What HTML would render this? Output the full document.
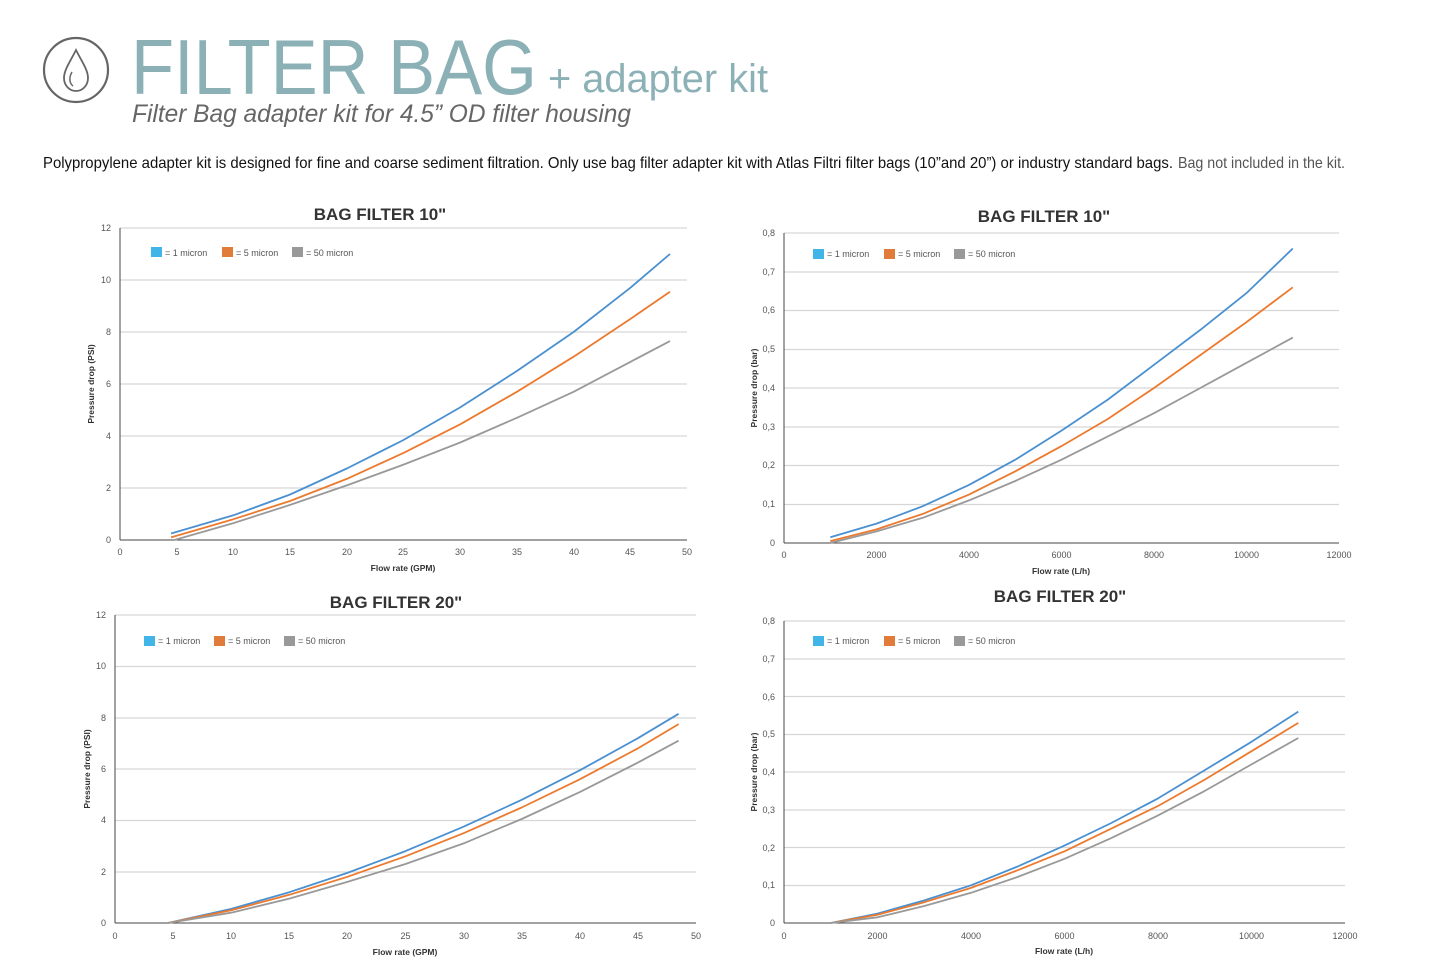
<!DOCTYPE html>
<html><head><meta charset="utf-8"><style>html,body{margin:0;padding:0;background:#fff}svg{display:block}</style></head><body>
<svg width="1445" height="973" viewBox="0 0 1445 973" xmlns="http://www.w3.org/2000/svg" font-family="Liberation Sans, sans-serif">
<!-- header -->
<circle cx="76" cy="70" r="32" fill="none" stroke="#666" stroke-width="2.2"/>
<path d="M76 50 C70 62 64 70 64 78 C64 86 70 91 76 91 C82 91 88 86 88 78 C88 70 82 62 76 50 Z" fill="none" stroke="#666" stroke-width="1.8"/>
<path d="M72 72 C69 77 69 83 73 86" fill="none" stroke="#666" stroke-width="1.5"/>
<text x="131" y="94" font-size="78" fill="#8bb0b6" textLength="406" lengthAdjust="spacingAndGlyphs">FILTER BAG</text>
<text x="548" y="92" font-size="40" fill="#8bb0b6" textLength="220" lengthAdjust="spacingAndGlyphs">+ adapter kit</text>
<text x="132" y="122" font-size="25" font-style="italic" fill="#666" textLength="499" lengthAdjust="spacingAndGlyphs">Filter Bag adapter kit for 4.5” OD filter housing</text>
<text x="43" y="168" font-size="16" fill="#111" textLength="1130" lengthAdjust="spacingAndGlyphs">Polypropylene adapter kit is designed for fine and coarse sediment filtration. Only use bag filter adapter kit with Atlas Filtri filter bags (10”and 20”) or industry standard bags.</text>
<text x="1178" y="168" font-size="16" fill="#555" textLength="167" lengthAdjust="spacingAndGlyphs">Bag not included in the kit.</text>

<g font-size="9" fill="#555">
<!-- Chart 1 -->
<text x="380" y="220" font-size="17" font-weight="bold" fill="#333" text-anchor="middle">BAG FILTER 10"</text>
<g stroke="#d6d6d6" stroke-width="1.2"><line x1="120" x2="687" y1="228" y2="228"/><line x1="120" x2="687" y1="280" y2="280"/><line x1="120" x2="687" y1="332" y2="332"/><line x1="120" x2="687" y1="384" y2="384"/><line x1="120" x2="687" y1="436" y2="436"/><line x1="120" x2="687" y1="488" y2="488"/></g>
<g stroke="#444" stroke-width="1"><line x1="120" y1="228" x2="120" y2="540"/><line x1="120" y1="540" x2="687" y2="540"/></g>
<g text-anchor="end"><text x="111" y="231">12</text><text x="111" y="283">10</text><text x="111" y="335">8</text><text x="111" y="387">6</text><text x="111" y="439">4</text><text x="111" y="491">2</text><text x="111" y="543">0</text></g>
<g text-anchor="middle"><text x="120" y="555">0</text><text x="177" y="555">5</text><text x="233" y="555">10</text><text x="290" y="555">15</text><text x="347" y="555">20</text><text x="403" y="555">25</text><text x="460" y="555">30</text><text x="517" y="555">35</text><text x="574" y="555">40</text><text x="630" y="555">45</text><text x="687" y="555">50</text>
<text x="403" y="571" font-weight="bold" font-size="8.5" fill="#333">Flow rate (GPM)</text></g>
<text transform="translate(94 384) rotate(-90)" text-anchor="middle" font-weight="bold" font-size="8.5" fill="#333">Pressure drop (PSI)</text>
<rect x="151" y="247" width="11" height="10" fill="#41b4e8"/><text x="165" y="256">= 1 micron</text>
<rect x="222" y="247" width="11" height="10" fill="#e07b3a"/><text x="236" y="256">= 5 micron</text>
<rect x="292" y="247" width="11" height="10" fill="#999"/><text x="306" y="256">= 50 micron</text>
<g fill="none" stroke-width="1.8" stroke-linejoin="round">
<polyline stroke="#4a90d0" points="171,533.5 233.4,515.3 290.1,494.5 346.8,468.5 403.5,440 460.2,407.4 516.9,371 573.6,332 630.3,287.8 670,254"/>
<polyline stroke="#ec7a2e" points="171,537.4 233.4,519.2 290.1,501 346.8,478.9 403.5,452.9 460.2,424.3 516.9,391.8 573.6,356.7 630.3,319 670,291.7"/>
<polyline stroke="#999" points="174.4,540 233.4,523.1 290.1,504.9 346.8,485.4 403.5,464.6 460.2,442.5 516.9,417.8 573.6,391.8 630.3,361.9 670,341.1"/>
</g>

<!-- Chart 2 -->
<text x="1044" y="222" font-size="17" font-weight="bold" fill="#333" text-anchor="middle">BAG FILTER 10"</text>
<g stroke="#d6d6d6" stroke-width="1.2"><line x1="784" x2="1339" y1="233" y2="233"/><line x1="784" x2="1339" y1="272" y2="272"/><line x1="784" x2="1339" y1="310.5" y2="310.5"/><line x1="784" x2="1339" y1="349.5" y2="349.5"/><line x1="784" x2="1339" y1="388" y2="388"/><line x1="784" x2="1339" y1="427" y2="427"/><line x1="784" x2="1339" y1="465.5" y2="465.5"/><line x1="784" x2="1339" y1="504.5" y2="504.5"/></g>
<g stroke="#444" stroke-width="1"><line x1="784" y1="233" x2="784" y2="543"/><line x1="784" y1="543" x2="1339" y2="543"/></g>
<g text-anchor="end"><text x="775" y="236">0,8</text><text x="775" y="275">0,7</text><text x="775" y="313">0,6</text><text x="775" y="352">0,5</text><text x="775" y="391">0,4</text><text x="775" y="430">0,3</text><text x="775" y="468">0,2</text><text x="775" y="507">0,1</text><text x="775" y="546">0</text></g>
<g text-anchor="middle"><text x="784" y="558">0</text><text x="876.5" y="558">2000</text><text x="969" y="558">4000</text><text x="1061.5" y="558">6000</text><text x="1154" y="558">8000</text><text x="1246.5" y="558">10000</text><text x="1339" y="558">12000</text>
<text x="1061" y="574" font-weight="bold" font-size="8.5" fill="#333">Flow rate (L/h)</text></g>
<text transform="translate(757 388) rotate(-90)" text-anchor="middle" font-weight="bold" font-size="8.5" fill="#333">Pressure drop (bar)</text>
<rect x="813" y="249" width="11" height="10" fill="#41b4e8"/><text x="827" y="257">= 1 micron</text>
<rect x="884" y="249" width="11" height="10" fill="#e07b3a"/><text x="898" y="257">= 5 micron</text>
<rect x="954" y="249" width="11" height="10" fill="#999"/><text x="968" y="257">= 50 micron</text>
<g fill="none" stroke-width="1.8" stroke-linejoin="round">
<polyline stroke="#4a90d0" points="830.3,537.2 876.5,523.6 922.8,506.2 969,484.9 1015.3,459.7 1061.5,430.6 1107.8,399.6 1154,364.8 1200.3,329.9 1246.5,293.1 1292.8,248.5"/>
<polyline stroke="#ec7a2e" points="830.3,541.1 876.5,529.4 922.8,513.9 969,494.6 1015.3,471.3 1061.5,446.1 1107.8,419 1154,388 1200.3,355.1 1246.5,322.1 1292.8,287.3"/>
<polyline stroke="#999" points="830.3,543 876.5,531.4 922.8,517.8 969,500.4 1015.3,481 1061.5,459.7 1107.8,436.4 1154,413.2 1200.3,388 1246.5,362.8 1292.8,337.6"/>
</g>

<!-- Chart 3 -->
<text x="396" y="608" font-size="17" font-weight="bold" fill="#333" text-anchor="middle">BAG FILTER 20"</text>
<g stroke="#d6d6d6" stroke-width="1.2"><line x1="115" x2="696" y1="615" y2="615"/><line x1="115" x2="696" y1="666.5" y2="666.5"/><line x1="115" x2="696" y1="718" y2="718"/><line x1="115" x2="696" y1="769" y2="769"/><line x1="115" x2="696" y1="820.5" y2="820.5"/><line x1="115" x2="696" y1="872" y2="872"/></g>
<g stroke="#444" stroke-width="1"><line x1="115" y1="615" x2="115" y2="923"/><line x1="115" y1="923" x2="696" y2="923"/></g>
<g text-anchor="end"><text x="106" y="618">12</text><text x="106" y="669">10</text><text x="106" y="721">8</text><text x="106" y="772">6</text><text x="106" y="823">4</text><text x="106" y="875">2</text><text x="106" y="926">0</text></g>
<g text-anchor="middle"><text x="115" y="939">0</text><text x="173" y="939">5</text><text x="231" y="939">10</text><text x="289" y="939">15</text><text x="347" y="939">20</text><text x="405.5" y="939">25</text><text x="464" y="939">30</text><text x="522" y="939">35</text><text x="580" y="939">40</text><text x="638" y="939">45</text><text x="696" y="939">50</text>
<text x="405" y="955" font-weight="bold" font-size="8.5" fill="#333">Flow rate (GPM)</text></g>
<text transform="translate(90 769) rotate(-90)" text-anchor="middle" font-weight="bold" font-size="8.5" fill="#333">Pressure drop (PSI)</text>
<rect x="144" y="636" width="11" height="10" fill="#41b4e8"/><text x="158" y="644">= 1 micron</text>
<rect x="214" y="636" width="11" height="10" fill="#e07b3a"/><text x="228" y="644">= 5 micron</text>
<rect x="284" y="636" width="11" height="10" fill="#999"/><text x="298" y="644">= 50 micron</text>
<g fill="none" stroke-width="1.8" stroke-linejoin="round">
<polyline stroke="#4a90d0" points="168,923 231.2,908.9 289.3,892.2 347.4,872.9 405.5,851.1 463.6,826.7 521.7,799.8 579.8,770.3 637.9,738.2 678.6,713.8"/>
<polyline stroke="#ec7a2e" points="168,923 231.2,910.2 289.3,894.8 347.4,876.8 405.5,856.3 463.6,833.2 521.7,807.5 579.8,779.3 637.9,748.4 678.6,724.1"/>
<polyline stroke="#999" points="168,923 231.2,912.7 289.3,898.6 347.4,881.9 405.5,864 463.6,843.4 521.7,819 579.8,792.1 637.9,762.6 678.6,740.7"/>
</g>

<!-- Chart 4 -->
<text x="1060" y="602" font-size="17" font-weight="bold" fill="#333" text-anchor="middle">BAG FILTER 20"</text>
<g stroke="#d6d6d6" stroke-width="1.2"><line x1="784" x2="1345" y1="621" y2="621"/><line x1="784" x2="1345" y1="659" y2="659"/><line x1="784" x2="1345" y1="696.5" y2="696.5"/><line x1="784" x2="1345" y1="734.5" y2="734.5"/><line x1="784" x2="1345" y1="772" y2="772"/><line x1="784" x2="1345" y1="810" y2="810"/><line x1="784" x2="1345" y1="847.5" y2="847.5"/><line x1="784" x2="1345" y1="885.5" y2="885.5"/></g>
<g stroke="#444" stroke-width="1"><line x1="784" y1="621" x2="784" y2="923"/><line x1="784" y1="923" x2="1345" y2="923"/></g>
<g text-anchor="end"><text x="775" y="624">0,8</text><text x="775" y="662">0,7</text><text x="775" y="700">0,6</text><text x="775" y="737">0,5</text><text x="775" y="775">0,4</text><text x="775" y="813">0,3</text><text x="775" y="851">0,2</text><text x="775" y="888">0,1</text><text x="775" y="926">0</text></g>
<g text-anchor="middle"><text x="784" y="939">0</text><text x="877.5" y="939">2000</text><text x="971" y="939">4000</text><text x="1064.5" y="939">6000</text><text x="1158" y="939">8000</text><text x="1251.5" y="939">10000</text><text x="1345" y="939">12000</text>
<text x="1064" y="954" font-weight="bold" font-size="8.5" fill="#333">Flow rate (L/h)</text></g>
<text transform="translate(757 772) rotate(-90)" text-anchor="middle" font-weight="bold" font-size="8.5" fill="#333">Pressure drop (bar)</text>
<rect x="813" y="636" width="11" height="10" fill="#41b4e8"/><text x="827" y="644">= 1 micron</text>
<rect x="884" y="636" width="11" height="10" fill="#e07b3a"/><text x="898" y="644">= 5 micron</text>
<rect x="954" y="636" width="11" height="10" fill="#999"/><text x="968" y="644">= 50 micron</text>
<g fill="none" stroke-width="1.8" stroke-linejoin="round">
<polyline stroke="#4a90d0" points="830.8,923 877.5,913.6 924.3,900.4 971,885.3 1017.8,866.4 1064.5,845.6 1111.3,823 1158,798.4 1204.8,770.1 1251.5,741.8 1298.3,711.6"/>
<polyline stroke="#ec7a2e" points="830.8,923 877.5,914.7 924.3,902.2 971,887.9 1017.8,870.2 1064.5,851.3 1111.3,828.6 1158,806 1204.8,779.6 1251.5,751.2 1298.3,722.9"/>
<polyline stroke="#999" points="830.8,923 877.5,917.3 924.3,906 971,892.8 1017.8,876.9 1064.5,858.8 1111.3,838.1 1158,815.4 1204.8,790.9 1251.5,764.4 1298.3,738"/>
</g>
</g>
</svg>
</body></html>
